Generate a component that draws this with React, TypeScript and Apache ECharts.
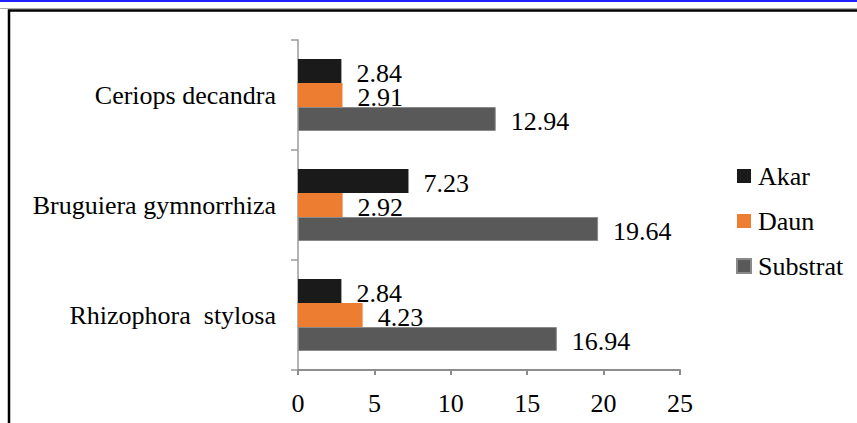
import React, { useEffect, useRef } from "react";
import * as echarts from "echarts";

const categories = ["Rhizophora  stylosa", "Bruguiera gymnorrhiza", "Ceriops decandra"];
const seriesNames = ["Akar", "Daun", "Substrat"];
const akar = [2.84, 7.23, 2.84];
const daun = [4.23, 2.92, 2.91];
const substrat = [16.94, 19.64, 12.94];
const colors = ["#1a1a1a", "#ed7d31", "#595959"];

const FONT = "Liberation Serif";

export default function App() {
  const ref = useRef<HTMLDivElement>(null);
  useEffect(() => {
    if (!ref.current) return;
    const chart = echarts.init(ref.current, null, { renderer: "svg" });
    const values = [akar, daun, substrat];
    chart.setOption({
      animation: false,
      backgroundColor: "#ffffff",
      textStyle: { fontFamily: FONT },
      grid: { left: 298, right: 177, top: 40, bottom: 53, containLabel: false },
      legend: {
        orient: "vertical",
        left: 736,
        top: 163,
        padding: 0,
        itemWidth: 14,
        itemHeight: 14,
        itemGap: 19,
        icon: "rect",
        data: seriesNames,
        textStyle: { fontFamily: FONT, fontSize: 26, color: "#000", padding: [0, 0, 0, 2] },
      },
      xAxis: {
        type: "value",
        min: 0,
        max: 25,
        interval: 5,
        splitLine: { show: false },
        axisLine: { show: true, lineStyle: { color: "#8c8c8c", width: 2 } },
        axisTick: { show: true, length: 5, lineStyle: { color: "#8c8c8c", width: 2 } },
        axisLabel: { fontFamily: FONT, fontSize: 26, color: "#000", margin: 20 },
      },
      yAxis: {
        type: "category",
        data: categories,
        axisLine: { show: true, lineStyle: { color: "#9a9a9a", width: 1.5 } },
        axisTick: { show: true, length: 7, lineStyle: { color: "#9a9a9a", width: 1.5 } },
        axisLabel: { fontFamily: FONT, fontSize: 26, color: "#000", margin: 22 },
      },
      graphic: [
        { type: "rect", shape: { x: 0, y: 0, width: 857, height: 2 }, style: { fill: "#1f1fff" } },
        { type: "rect", shape: { x: 0, y: 8, width: 857, height: 1 }, style: { fill: "#aaaaaa" } },
        {
          type: "rect",
          shape: { x: 9, y: 10.5, width: 900, height: 500 },
          style: { fill: "none", stroke: "#000", lineWidth: 2.5 },
        },
      ],
      series: seriesNames.map((name, i) => ({
        name,
        type: "bar",
        data: values[i],
        barWidth: 24,
        barGap: "0%",
        itemStyle: {
          color: colors[i],
          borderColor: i === 2 ? "#8a8a8a" : colors[i],
          borderWidth: i === 2 ? 1 : 0,
        },
        label: {
          show: true,
          position: "right",
          distance: 15,
          offset: [0, 2],
          fontFamily: FONT,
          fontSize: 26,
          color: "#000",
          formatter: (p: any) => p.value.toFixed(2),
        },
      })),
    });
    return () => chart.dispose();
  }, []);
  return (
    <div
      ref={ref}
      style={{ position: "fixed", left: 0, top: 0, width: 857, height: 423 }}
    />
  );
}
